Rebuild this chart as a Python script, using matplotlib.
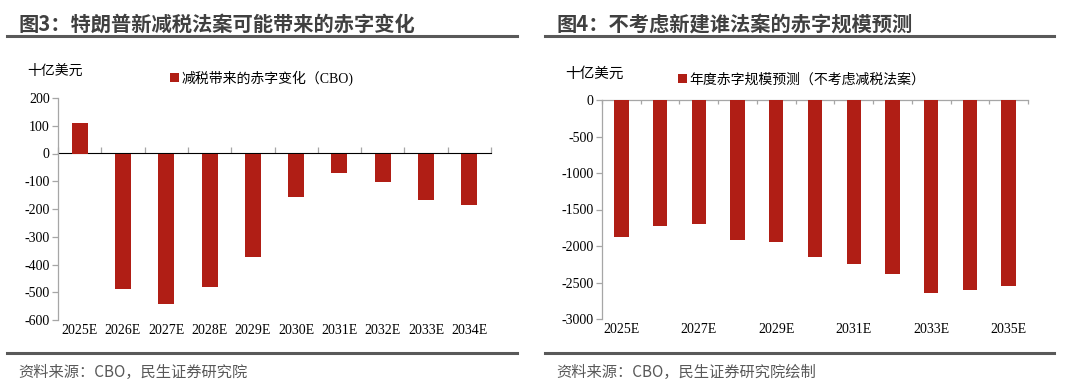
import numpy as np
import matplotlib
matplotlib.use('Agg')
import matplotlib.pyplot as plt

plt.rcParams['font.family'] = ['Liberation Serif', 'Noto Sans CJK SC', 'DejaVu Sans']
plt.rcParams['axes.unicode_minus'] = False

# data (十亿美元)
years_l = ['2025E', '2026E', '2027E', '2028E', '2029E',
           '2030E', '2031E', '2032E', '2033E', '2034E']
deficit_change = [110, -490, -542, -481, -372, -156, -69, -102, -167, -187]

years_r = ['2025E', '2026E', '2027E', '2028E', '2029E', '2030E',
           '2031E', '2032E', '2033E', '2034E', '2035E']
deficit_base = [-1877, -1725, -1697, -1924, -1948, -2152,
                -2246, -2384, -2649, -2607, -2545]

legend_l = '减税带来的赤字变化（CBO)'
legend_r = '年度赤字规模预测（不考虑减税法案）'
title_l = '图3：特朗普新减税法案可能带来的赤字变化'
title_r = '图4：不考虑新建谁法案的赤字规模预测'
source_l = '资料来源：CBO，民生证券研究院'
source_r = '资料来源：CBO，民生证券研究院绘制'

bar_c = '#B01E15'
axis_c = '#A6A6A6'
rule_c = '#595959'
sans = ['Noto Sans CJK SC', 'DejaVu Sans']

fig = plt.figure(figsize=(10.8, 3.89), dpi=100)
W, H = 1080, 389


def fx(px):
    return px / W


def fy(py):
    return 1 - py / H


def style_axis(ax):
    for s in ['top', 'right', 'bottom']:
        ax.spines[s].set_visible(False)
    ax.spines['left'].set_color(axis_c)
    ax.spines['left'].set_linewidth(0.9)
    ax.tick_params(axis='y', length=4, width=0.9, color=axis_c, labelsize=10, pad=2)
    ax.tick_params(axis='x', length=0, labelsize=10, pad=3)


# ---- left chart
ax1 = fig.add_axes([fx(58), fy(320), fx(491 - 58), (320 - 98) / H])
x1 = np.arange(len(years_l))
bars1 = ax1.bar(x1, deficit_change, width=0.37, color=bar_c, label=legend_l, zorder=2)
ax1.set_xlim(-0.5, len(years_l) - 0.5)
ax1.set_ylim(-600, 200)
ax1.set_yticks(np.arange(-600, 201, 100))
ax1.set_xticks(x1)
ax1.set_xticklabels(years_l)
style_axis(ax1)
zero1 = ax1.secondary_xaxis(600 / 800)
zero1.set_xticks(np.arange(-0.5, len(years_l), 1.0))
zero1.set_xticklabels([])
zero1.tick_params(axis='x', direction='out', length=4, width=0.9, color=axis_c)
zero1.spines['bottom'].set_color(axis_c)
zero1.spines['bottom'].set_linewidth(0.9)

# ---- right chart
ax2 = fig.add_axes([fx(602), fy(319), fx(1028 - 602), (319 - 100) / H])
x2 = np.arange(len(years_r))
bars2 = ax2.bar(x2, deficit_base, width=0.37, color=bar_c, label=legend_r, zorder=2)
ax2.set_xlim(-0.5, len(years_r) - 0.5)
ax2.set_ylim(-3000, 0)
ax2.set_yticks(np.arange(-3000, 1, 500))
ax2.set_xticks(x2[::2])
ax2.set_xticklabels(years_r[::2])
style_axis(ax2)
top2 = ax2.secondary_xaxis('top')
top2.set_xticks(np.arange(-0.5, len(years_r), 1.0))
top2.set_xticklabels([])
top2.tick_params(axis='x', direction='in', length=3, width=0.9, color=axis_c)
top2.spines['top'].set_color(axis_c)
top2.spines['top'].set_linewidth(0.9)

# ---- units and legends
fig.text(fx(27), fy(71), '十亿美元', fontsize=10, va='center', ha='left', family=sans)
fig.text(fx(565), fy(74), '十亿美元', fontsize=10.5, va='center', ha='left', family=sans)
for ax, px, py in [(ax1, 170, 78), (ax2, 678, 80)]:
    ax.legend(loc='center left', bbox_to_anchor=(fx(px), fy(py)),
              bbox_transform=fig.transFigure, frameon=False, fontsize=10,
              handlelength=0.65, handleheight=0.65, handletextpad=0.15,
              borderpad=0, borderaxespad=0)

# ---- titles, rules, sources
fig.text(fx(18), fy(24), title_l, fontsize=14.6, fontweight='bold',
         color='#404040', va='center', ha='left', family=sans)
fig.text(fx(556), fy(24), title_r, fontsize=14.6, fontweight='bold',
         color='#404040', va='center', ha='left', family=sans)
for y in [36, 353]:
    fig.add_artist(plt.Line2D([fx(7), fx(517)], [fy(y), fy(y)], color=rule_c, lw=2.2))
    fig.add_artist(plt.Line2D([fx(545), fx(1054)], [fy(y), fy(y)], color=rule_c, lw=2.2))
fig.text(fx(18), fy(372), source_l, fontsize=11, color='#595959',
         va='center', ha='left', family=sans)
fig.text(fx(556), fy(372), source_r, fontsize=11, color='#595959',
         va='center', ha='left', family=sans)

fig.savefig('out.png', dpi=100)
